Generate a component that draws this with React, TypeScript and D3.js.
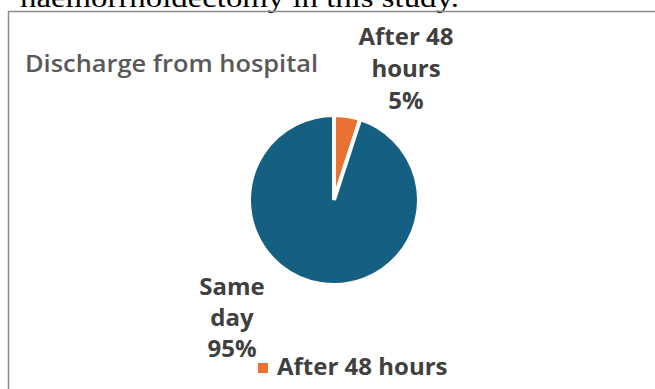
import React from "react";
import * as d3 from "d3";

const categories = ["After 48 hours", "Same day"];
const values = [5, 95];
const labelLines = [["After 48", "hours", "5%"], ["Same", "day", "95%"]];
const colors = ["#E97132", "#156082"];
const title = "Discharge from hospital";
const legendItems = ["After 48 hours"];
const captionAbove = "haemorrhoidectomy in this study.";

const W = 655;
const H = 389;

export default function App() {
  const cx = 334;
  const cy = 200;
  const rOuter = 85;
  const pie = d3.pie<number>().sort(null).startAngle(0).endAngle(2 * Math.PI);
  const arcs = pie(values);
  const arcGen = d3.arc<d3.PieArcDatum<number>>().innerRadius(0).outerRadius(rOuter);
  const font = "'Open Sans', Roboto, sans-serif";
  const labelPos = [
    { x: 406, y: 45, dy: 32 },
    { x: 232, y: 295, dy: 31 },
  ];
  return (
    <>
      <style>{`body{margin:0}`}</style>
      <svg width={W} height={H} style={{ display: "block", background: "#fff" }}>
        <text
          x={20}
          y={7}
          fontFamily="'Liberation Serif', 'DejaVu Serif', serif"
          fontSize={28}
          fill="#000"
          textLength={439}
          lengthAdjust="spacingAndGlyphs"
        >
          {captionAbove}
        </text>
        <path d={`M8.5,${H} V11.5 H${W}`} fill="none" stroke="#8a8a8a" strokeWidth={1.5} />
        <text
          x={25}
          y={72}
          fontFamily={font}
          fontWeight={600}
          fontSize={23}
          fill="#595959"
          textLength={293}
          lengthAdjust="spacingAndGlyphs"
        >
          {title}
        </text>
        <g transform={`translate(${cx},${cy})`}>
          {arcs.map((a, i) => (
            <path key={categories[i]} d={arcGen(a) || ""} fill={colors[i]} stroke="#fff" strokeWidth={4} strokeLinejoin="miter" />
          ))}
        </g>
        {labelLines.map((lines, i) => (
          <text
            key={categories[i]}
            x={labelPos[i].x}
            y={labelPos[i].y}
            textAnchor="middle"
            fontFamily={font}
            fontWeight={700}
            fontSize={24}
            fill="#404040"
          >
            {lines.map((ln, j) => (
              <tspan key={j} x={labelPos[i].x} dy={j === 0 ? 0 : labelPos[i].dy}>
                {ln}
              </tspan>
            ))}
          </text>
        ))}
        {legendItems.map((item, i) => (
          <g key={item}>
            <rect x={258} y={363} width={10} height={10} fill={colors[i]} />
            <text x={277} y={375} fontFamily={font} fontWeight={700} fontSize={24} fill="#404040">
              {item}
            </text>
          </g>
        ))}
      </svg>
    </>
  );
}
